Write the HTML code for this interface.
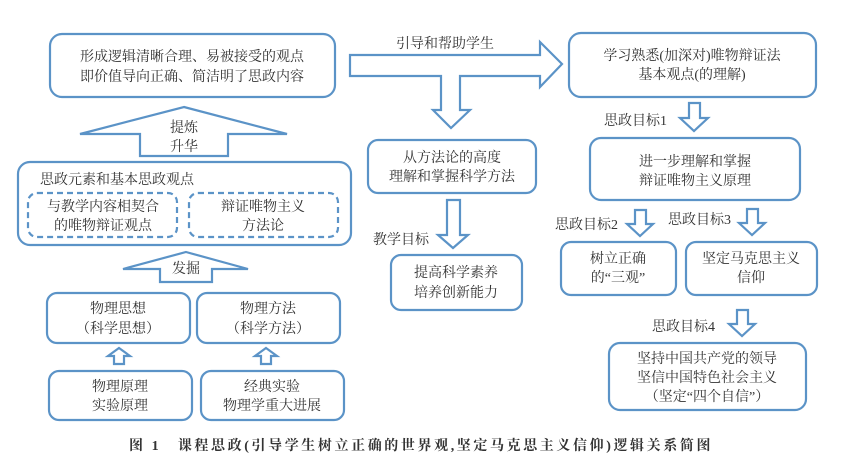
<!DOCTYPE html>
<html><head><meta charset="utf-8"><style>
body{margin:0;background:#fff}
svg text{font-family:"Liberation Serif","Noto Serif CJK SC","Noto Sans CJK SC",serif;font-size:14px;fill:#333}
</style></head><body>
<svg width="842" height="469" viewBox="0 0 842 469" xmlns="http://www.w3.org/2000/svg">
<g fill="none" stroke="#5b93c7" stroke-width="2.2" stroke-linejoin="miter">
<rect x="50" y="34" width="285" height="63" rx="12"/>
<polygon points="184,107 287,134 228,134 228,156 140,156 140,134 80,134"/>
<rect x="18" y="162" width="333" height="83" rx="12"/>
<rect x="28" y="193" width="149" height="44" rx="9" stroke-dasharray="6,4"/>
<rect x="189" y="193" width="149" height="44" rx="9" stroke-dasharray="6,4"/>
<polygon points="186,252 248,269 212,269 212,282 160,282 160,269 123,269"/>
<rect x="47" y="293" width="143" height="50" rx="10"/>
<rect x="197" y="293" width="143" height="50" rx="10"/>
<polygon points="119,348 130,356 124,356 124,364 114,364 114,356 108,356"/>
<polygon points="266,348 277,356 271,356 271,364 261,364 261,356 255,356"/>
<rect x="49" y="371" width="143" height="49" rx="10"/>
<rect x="201" y="371" width="143" height="49" rx="10"/>
<polygon points="350,55 540,55 540,42 562,64 540,87 540,76 460,76 460,110 470,110 451,128 433,110 441,110 441,76 350,76"/>
<rect x="368" y="140" width="168" height="53" rx="10"/>
<polygon points="447,200 460,200 460,235 468,235 453,248 438,235 447,235"/>
<rect x="391" y="255" width="131" height="55" rx="10"/>
<rect x="569" y="33" width="247" height="64" rx="12"/>
<polygon points="689,103 700,103 700,118 708,118 694,131 680,118 689,118"/>
<rect x="590" y="138" width="210" height="62" rx="11"/>
<polygon points="635,210 646,210 646,224 653,224 640,236 627,224 635,224"/>
<polygon points="747,209 758,209 758,223 765,223 752,235 739,223 747,223"/>
<rect x="561" y="242" width="115" height="53" rx="10"/>
<rect x="686" y="242" width="131" height="53" rx="10"/>
<polygon points="737,310 748,310 748,324 755,324 742,336 729,324 737,324"/>
<rect x="609" y="343" width="197" height="67" rx="11"/>
</g>
<g text-anchor="middle">
<text x="192" y="61">形成逻辑清晰合理、易被接受的观点</text>
<text x="192" y="81">即价值导向正确、简洁明了思政内容</text>
<text x="184" y="132">提炼</text>
<text x="184" y="151">升华</text>
<text x="103" y="211">与教学内容相契合</text>
<text x="103" y="230">的唯物辩证观点</text>
<text x="263" y="211">辩证唯物主义</text>
<text x="263" y="230">方法论</text>
<text x="186" y="273">发掘</text>
<text x="118" y="313">物理思想</text>
<text x="118" y="333">（科学思想）</text>
<text x="268" y="313">物理方法</text>
<text x="268" y="333">（科学方法）</text>
<text x="120" y="391">物理原理</text>
<text x="120" y="410">实验原理</text>
<text x="272" y="391">经典实验</text>
<text x="272" y="410">物理学重大进展</text>
<text x="452" y="162">从方法论的高度</text>
<text x="452" y="181">理解和掌握科学方法</text>
<text x="456" y="277">提高科学素养</text>
<text x="456" y="297">培养创新能力</text>
<text x="692" y="60">学习熟悉(加深对)唯物辩证法</text>
<text x="692" y="79">基本观点(的理解)</text>
<text x="695" y="166">进一步理解和掌握</text>
<text x="695" y="185">辩证唯物主义原理</text>
<text x="618" y="263">树立正确</text>
<text x="618" y="282">的“三观”</text>
<text x="751" y="263">坚定马克思主义</text>
<text x="751" y="282">信仰</text>
<text x="707" y="363">坚持中国共产党的领导</text>
<text x="707" y="382">坚信中国特色社会主义</text>
<text x="707" y="401">（坚定“四个自信”）</text>
</g>
<text x="40" y="184">思政元素和基本思政观点</text>
<text x="396" y="48">引导和帮助学生</text>
<text x="373" y="244">教学目标</text>
<text x="604" y="125">思政目标1</text>
<text x="555" y="229">思政目标2</text>
<text x="668" y="224">思政目标3</text>
<text x="652" y="331">思政目标4</text>
<text x="421" y="450" text-anchor="middle" style="font-size:14px;font-weight:bold;letter-spacing:2.6px">图 1　课程思政(引导学生树立正确的世界观,坚定马克思主义信仰)逻辑关系简图</text>
</svg>
</body></html>
